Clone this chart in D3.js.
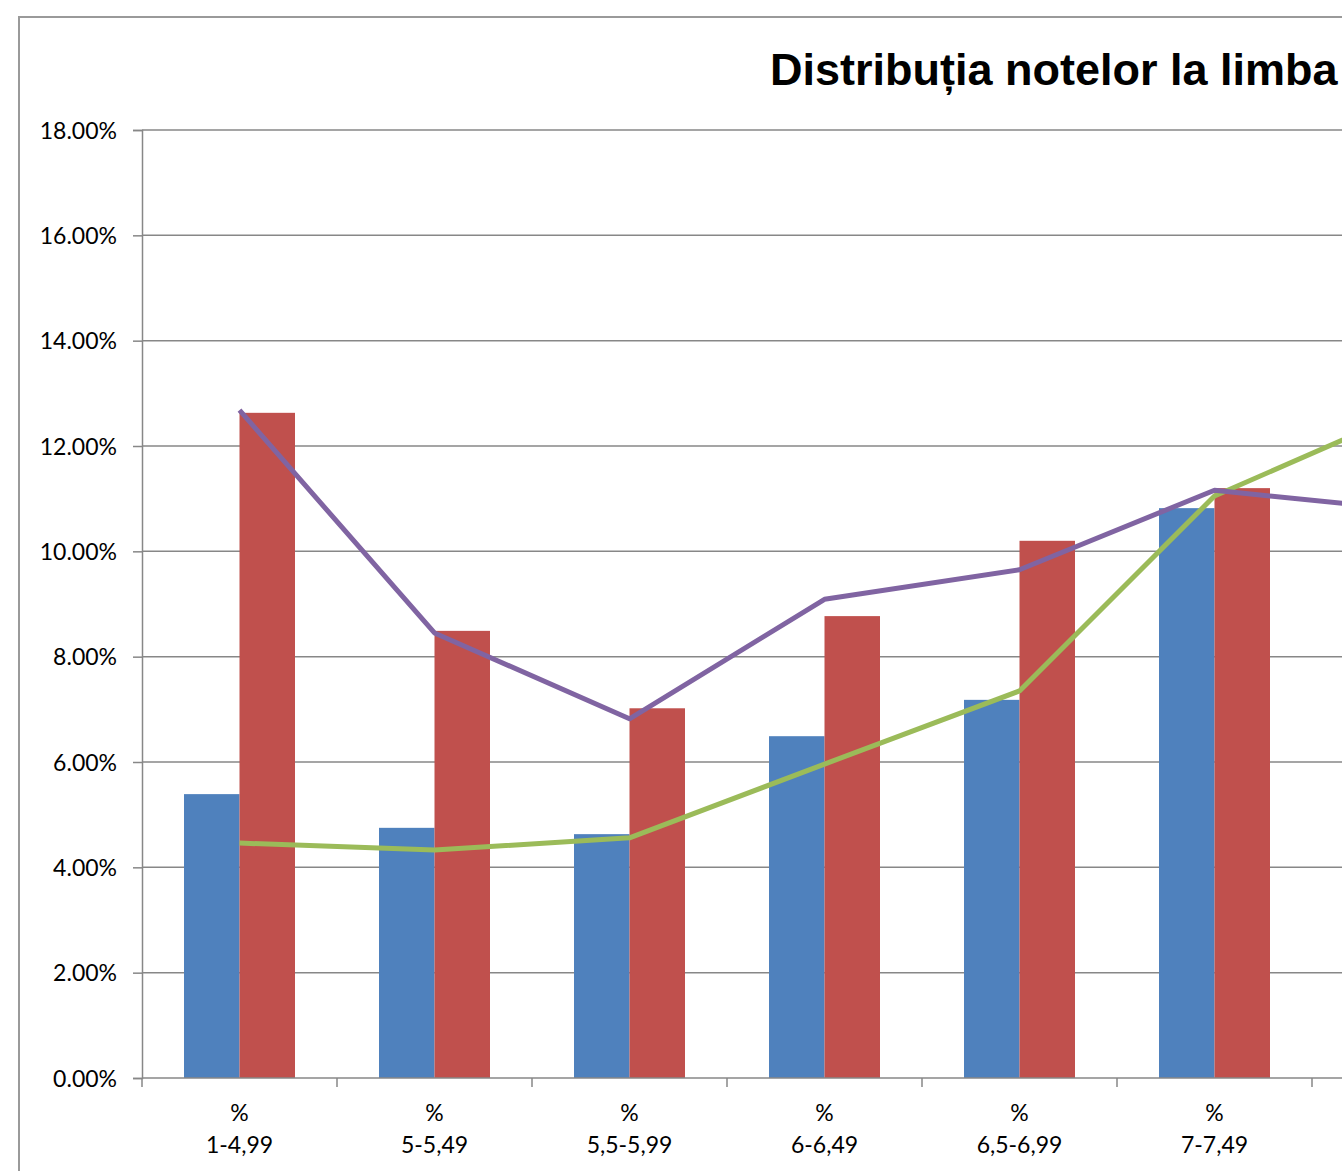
<!DOCTYPE html>
<html lang="ro">
<head>
<meta charset="utf-8">
<title>Distribuția notelor</title>
<script src="https://cdnjs.cloudflare.com/ajax/libs/d3/7.8.5/d3.min.js"></script>
<style>
  html, body { margin: 0; padding: 0; background: #fff; overflow: hidden; }
  svg { display: block; }
  .tick-label { font-family: Lato, "Open Sans", sans-serif; font-size: 23px; fill: #000; }
</style>
</head>
<body>
<div id="chart"></div>
<script>
// categories (grade intervals) - the 7th one is cut off by the picture edge
const categories = ["1-4,99", "5-5,49", "5,5-5,99", "6-6,49", "6,5-6,99", "7-7,49", "7,5-7,99"];
// bar series (percent); the 7th bars are outside the visible picture
const seriesBlue = [5.39, 4.75, 4.63, 6.49, 7.18, 10.82, null];
const seriesRed  = [12.63, 8.49, 7.02, 8.77, 10.20, 11.20, null];
// line series (percent)
const linePurple = [12.68, 8.45, 6.82, 9.09, 9.65, 11.16, 10.78];
const lineGreen  = [4.46, 4.33, 4.56, 5.96, 7.35, 11.05, 12.67];
const yTicks = [0, 2, 4, 6, 8, 10, 12, 14, 16, 18];
const title = "Distribuția notelor la limba română";

const W = 1342, H = 1171;
const plot = {left: 142, top: 130, bottom: 1078, right: 142 + 195 * categories.length};

const svg = d3.select("#chart").append("svg")
  .attr("width", W).attr("height", H);

// outer chart border
svg.append("rect")
  .attr("x", 19).attr("y", 17)
  .attr("width", 1500).attr("height", 1300)
  .attr("fill", "#fff")
  .attr("stroke", "#9a9a9a").attr("stroke-width", 2);

// title
svg.append("text")
  .attr("x", 770).attr("y", 85)
  .attr("font-family", "Liberation Sans, Arial, sans-serif")
  .attr("font-weight", "bold").attr("font-size", 45)
  .attr("fill", "#000")
  .text(title);

const x = d3.scaleBand().domain(categories).range([plot.left, plot.right]).padding(0);
const x1 = d3.scaleBand().domain(["blue", "red"]).range([0, x.bandwidth()]).paddingInner(0).paddingOuter(0.757);
const y = d3.scaleLinear().domain([0, 18]).range([plot.bottom, plot.top]);

// gridlines
svg.append("g").selectAll("line")
  .data(yTicks.filter(d => d > 0))
  .join("line")
  .attr("x1", plot.left).attr("x2", plot.right)
  .attr("y1", d => y(d)).attr("y2", d => y(d))
  .attr("stroke", "#878787").attr("stroke-width", 1.5);

// y axis
const yAxis = svg.append("g")
  .attr("transform", `translate(${plot.left},0)`)
  .call(d3.axisLeft(y).tickValues(yTicks).tickSize(9).tickPadding(16)
    .tickFormat(d => d3.format(".2f")(d) + "%"));
yAxis.select(".domain").attr("stroke", "#878787").attr("stroke-width", 1.5);
yAxis.selectAll(".tick line").attr("stroke", "#878787").attr("stroke-width", 1.5);
yAxis.selectAll(".tick text").attr("class", "tick-label").attr("fill", "#000").attr("dy", "0.35em");

// bars
const groups = svg.append("g").selectAll("g")
  .data(categories.map((c, i) => ({c, blue: seriesBlue[i], red: seriesRed[i]})))
  .join("g")
  .attr("transform", d => `translate(${x(d.c)},0)`);

groups.selectAll("rect")
  .data(d => [{k: "blue", v: d.blue}, {k: "red", v: d.red}].filter(e => e.v != null))
  .join("rect")
  .attr("x", d => x1(d.k))
  .attr("width", x1.bandwidth())
  .attr("y", d => y(d.v))
  .attr("height", d => y(0) - y(d.v))
  .attr("fill", d => d.k === "blue" ? "#4F81BD" : "#C0504D");

// x axis
const xAxis = svg.append("g")
  .attr("transform", `translate(0,${plot.bottom})`);
xAxis.append("line")
  .attr("x1", plot.left).attr("x2", plot.right)
  .attr("y1", 0).attr("y2", 0)
  .attr("stroke", "#878787").attr("stroke-width", 1.5);
xAxis.selectAll(".xtick")
  .data(categories.concat(["end"]))
  .join("line")
  .attr("class", "xtick")
  .attr("x1", (d, i) => plot.left + i * x.step())
  .attr("x2", (d, i) => plot.left + i * x.step())
  .attr("y1", 0).attr("y2", 9)
  .attr("stroke", "#878787").attr("stroke-width", 1.5);
// only labels whose centre lies inside the picture are visible
const xl = xAxis.selectAll(".xlabel")
  .data(categories.filter(d => x(d) + x.bandwidth() / 2 < W))
  .join("text")
  .attr("class", "tick-label")
  .attr("text-anchor", "middle")
  .attr("x", d => x(d) + x.bandwidth() / 2);
xl.append("tspan").attr("x", d => x(d) + x.bandwidth() / 2).attr("y", 43).text("%");
xl.append("tspan").attr("x", d => x(d) + x.bandwidth() / 2).attr("y", 75).text(d => d);

// lines
const line = d3.line()
  .x((d, i) => x(categories[i]) + x.bandwidth() / 2)
  .y(d => y(d));

svg.append("path").datum(lineGreen)
  .attr("d", line).attr("fill", "none")
  .attr("stroke", "#9BBB59").attr("stroke-width", 5).attr("stroke-linejoin", "round");
svg.append("path").datum(linePurple)
  .attr("d", line).attr("fill", "none")
  .attr("stroke", "#8064A2").attr("stroke-width", 5).attr("stroke-linejoin", "round");
</script>
</body>
</html>
